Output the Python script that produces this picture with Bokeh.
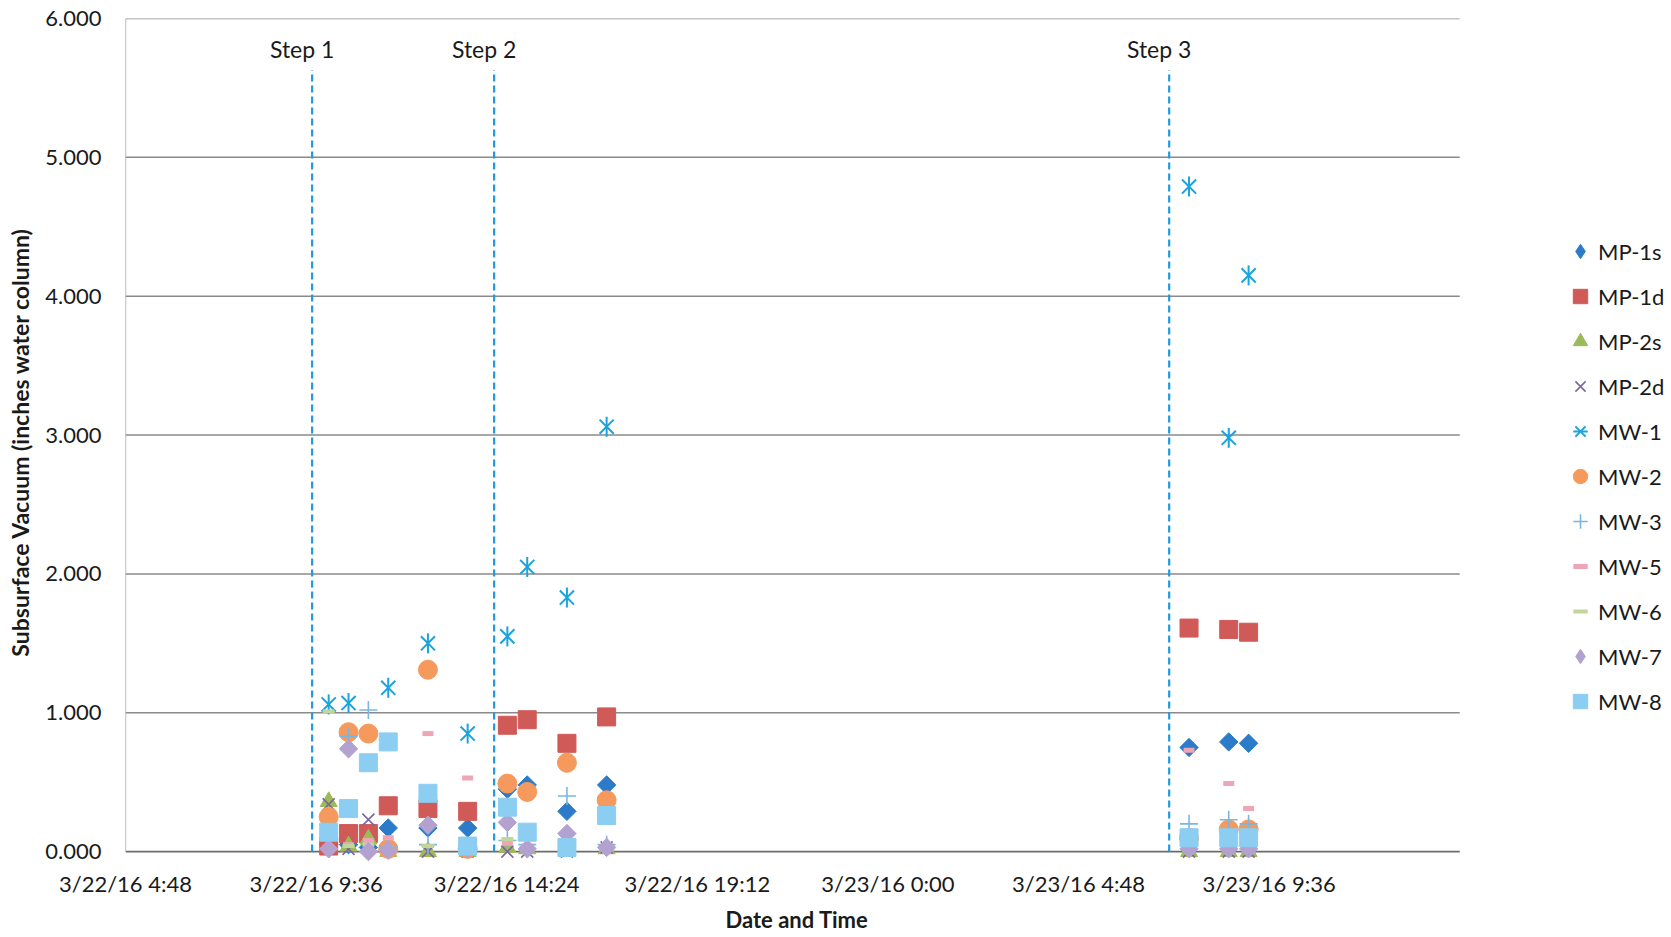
import numpy as np
import pandas as pd
from bokeh.plotting import figure
from bokeh.models import Range1d, FixedTicker, PrintfTickFormatter, Legend, LegendItem, Title
from bokeh.core.properties import value
from bokeh.embed import file_html
from bokeh.resources import INLINE

# ---------------- data ----------------
times = ["2016-03-22 09:55", "2016-03-22 10:25", "2016-03-22 10:55", "2016-03-22 11:25",
         "2016-03-22 12:25", "2016-03-22 13:25", "2016-03-22 14:25", "2016-03-22 14:55",
         "2016-03-22 15:55", "2016-03-22 16:55", "2016-03-23 07:35", "2016-03-23 08:35",
         "2016-03-23 09:05"]

mp_1s = [0.05, 0.05, 0.03, 0.17, 0.17, 0.17, 0.45, 0.48, 0.29, 0.48, 0.75, 0.79, 0.78]
mp_1d = [0.04, 0.13, 0.13, 0.33, 0.31, 0.29, 0.91, 0.95, 0.78, 0.97, 1.61, 1.60, 1.58]
mp_2s = [0.36, 0.04, 0.09, 0.00, 0.00, 0.00, 0.03, 0.02, 0.00, 0.02, 0.00, 0.00, 0.00]
mp_2d = [0.34, 0.02, 0.23, 0.02, 0.00, 0.00, 0.00, 0.00, 0.00, 0.03, 0.00, 0.00, 0.00]
mw_1 = [1.06, 1.07, np.nan, 1.18, 1.50, 0.85, 1.55, 2.05, 1.83, 3.06, 4.79, 2.98, 4.15]
mw_2 = [0.25, 0.86, 0.85, 0.02, 1.31, 0.02, 0.49, 0.43, 0.64, 0.37, 0.10, 0.16, 0.16]
mw_3 = [0.02, 0.83, 1.02, 0.04, 0.05, 0.03, 0.08, 0.05, 0.40, 0.05, 0.20, 0.23, 0.20]
mw_5 = [0.03, 0.05, 0.08, 0.10, 0.85, 0.53, 0.06, 0.04, 0.05, 0.04, 0.73, 0.49, 0.31]
mw_6 = [1.01, 0.04, 0.05, 0.03, 0.04, 0.02, 0.09, 0.03, 0.03, 0.02, 0.02, 0.02, 0.02]
mw_7 = [0.02, 0.74, 0.00, 0.01, 0.19, 0.02, 0.21, 0.02, 0.13, 0.03, 0.02, 0.02, 0.02]
mw_8 = [0.14, 0.31, 0.64, 0.79, 0.42, 0.04, 0.32, 0.14, 0.03, 0.26, 0.10, 0.10, 0.10]

series_names = ["MP-1s", "MP-1d", "MP-2s", "MP-2d", "MW-1", "MW-2", "MW-3",
                "MW-5", "MW-6", "MW-7", "MW-8"]
series_values = [mp_1s, mp_1d, mp_2s, mp_2d, mw_1, mw_2, mw_3, mw_5, mw_6, mw_7, mw_8]

step_labels = ["Step 1", "Step 2", "Step 3"]
step_times = ["2016-03-22 09:30", "2016-03-22 14:05", "2016-03-23 07:05"]
step_line_top = 5.63
step_label_y = 5.78

x_start = "2016-03-22 04:48"      # axis minimum
x_end = "2016-03-23 14:24"        # axis maximum (end of gridlines)
tick_times = ["2016-03-22 04:48", "2016-03-22 09:36", "2016-03-22 14:24", "2016-03-22 19:12",
              "2016-03-23 00:00", "2016-03-23 04:48", "2016-03-23 09:36"]
tick_labels = ["3/22/16 4:48", "3/22/16 9:36", "3/22/16 14:24", "3/22/16 19:12",
               "3/23/16 0:00", "3/23/16 4:48", "3/23/16 9:36"]
y_ticks = [0, 1, 2, 3, 4, 5, 6]

# ---------------- layout / styles ----------------
VIEW_X_END = "2016-03-23 19:44"   # view extends right so the legend area lies inside the frame
VIEW_Y_START = -0.1               # a little room below zero so markers on 0 are not cut

diamond_legend = {"MP-1s": "#2b7bc8", "MW-7": "#b3a2d0"}
styles = {
    "MP-1s": dict(marker="square", size=13, angle=np.pi / 4, fill_color="#2b7bc8", line_color="#2b7bc8"),
    "MP-1d": dict(marker="square", size=18, fill_color="#cf5a58", line_color="#cf5a58"),
    "MP-2s": dict(marker="triangle", size=17, fill_color="#9bbb59", line_color="#9bbb59"),
    "MP-2d": dict(marker="x", size=17, line_color="#8064a2", line_width=1.6),
    "MW-1": dict(marker="x", size=20, line_color="#1aa3dc", line_width=2),
    "MW-2": dict(marker="circle", size=19, fill_color="#f59a5c", line_color="#f59a5c"),
    "MW-3": dict(marker="cross", size=18, line_color="#7ab6e0", line_width=1.6),
    "MW-5": dict(marker="dash", size=11, line_color="#eea5b6", line_width=5),
    "MW-6": dict(marker="dash", size=12, line_color="#c2d69c", line_width=4),
    "MW-7": dict(marker="square", size=13, angle=np.pi / 4, fill_color="#b3a2d0", line_color="#b3a2d0"),
    "MW-8": dict(marker="square", size=18, fill_color="#8ccdf2", line_color="#8ccdf2"),
}

FONT = "Lato"
TEXT = "#1a1a1a"

x_dt = pd.to_datetime(times)
p = figure(width=1671, height=936, x_axis_type="datetime",
           output_backend="svg", toolbar_location=None,
           x_range=Range1d(pd.Timestamp(x_start), pd.Timestamp(VIEW_X_END)),
           y_range=Range1d(VIEW_Y_START, 6),
           min_border_left=125, min_border_right=0, min_border_top=18, min_border_bottom=70)
p.outline_line_color = None
p.background_fill_color = "white"
p.border_fill_color = "white"

# axes (lines drawn separately so they stop where the chart's axes stop)
tick_ms = [int(pd.Timestamp(t).value // 10**6) for t in tick_times]
p.xaxis.ticker = FixedTicker(ticks=tick_ms)
p.xaxis.major_label_overrides = {ms: lab for ms, lab in zip(tick_ms, tick_labels)}
p.yaxis.ticker = FixedTicker(ticks=y_ticks)
p.yaxis.formatter = PrintfTickFormatter(format="%.3f")
for ax in (p.xaxis, p.yaxis):
    ax.axis_line_color = None
    ax.major_tick_line_color = None
    ax.minor_tick_line_color = None
    ax.major_tick_out = 0
    ax.major_tick_in = 0
    ax.minor_tick_out = 0
    ax.major_label_text_font = FONT
    ax.major_label_text_font_size = "22px"
    ax.major_label_text_color = TEXT
    ax.axis_label_text_font = FONT
    ax.axis_label_text_font_style = "bold"
    ax.axis_label_text_color = TEXT
p.xaxis.major_label_standoff = 4
p.yaxis.major_label_standoff = 24
p.yaxis.axis_label = "Subsurface Vacuum (inches water column)"
p.yaxis.axis_label_text_font_size = "23px"
p.yaxis.axis_label_standoff = 8

# x-axis title, centred under the plotted axis (not the whole frame)
p.add_layout(Title(text="Date and Time", align="left", offset=600, standoff=8,
                   text_font=FONT, text_font_size="22px", text_font_style="bold",
                   text_color=TEXT), "below")

p.xgrid.grid_line_color = None
p.ygrid.grid_line_color = None

xs0 = pd.Timestamp(x_start)
xs1 = pd.Timestamp(x_end)
grid_y = [t for t in y_ticks if t != 0]
p.segment(x0=[xs0] * len(grid_y), y0=grid_y, x1=[xs1] * len(grid_y), y1=grid_y,
          line_color="#8a8a8a", line_width=1.5)
p.segment(x0=[xs0], y0=[0], x1=[xs1], y1=[0], line_color="#6b6b6b", line_width=1.8)
p.segment(x0=[xs0], y0=[0], x1=[xs0], y1=[max(y_ticks)], line_color="#9a9a9a", line_width=1.3)

# step lines
step_dt = pd.to_datetime(step_times)
p.segment(x0=step_dt, y0=[0] * len(step_dt), x1=step_dt, y1=[step_line_top] * len(step_dt),
          line_color="#1f9ae0", line_width=2.2, line_dash="7 4")
p.text(x=step_dt, y=[step_label_y] * len(step_dt), text=step_labels,
       text_align="center", text_baseline="middle", x_offset=-10,
       text_font=value(FONT), text_font_size="23px", text_color=TEXT)

# series
items = []
for name, vals in zip(series_names, series_values):
    r = p.scatter(x=x_dt, y=vals, **styles[name])
    rends = [r]
    if name == "MW-1":
        # Excel star marker: an x with a vertical bar
        r2 = p.scatter(x=x_dt, y=vals, marker="dash", angle=np.pi / 2, size=20,
                       line_color="#1aa3dc", line_width=2)
        rends.append(r2)
    legend_rends = rends
    if name in diamond_legend:
        # legend swatch as a diamond (the rotated square is not rotated in legends);
        # a single undrawn (NaN) point carries the style
        proxy = p.scatter(x=[x_dt[0]], y=[np.nan], marker="diamond",
                          fill_color=diamond_legend[name], line_color=diamond_legend[name])
        legend_rends = [proxy]
    items.append(LegendItem(label=name, renderers=legend_rends))

legend = Legend(items=items, location=(1437, 146), orientation="vertical",
                glyph_width=36, glyph_height=36, label_height=36, spacing=9,
                label_standoff=0, padding=0, margin=0,
                border_line_color=None, background_fill_alpha=0,
                label_text_font=FONT, label_text_font_size="22px",
                label_text_color=TEXT, label_text_baseline="middle")
p.add_layout(legend)

open("out.html", "w").write(file_html(p, INLINE))
